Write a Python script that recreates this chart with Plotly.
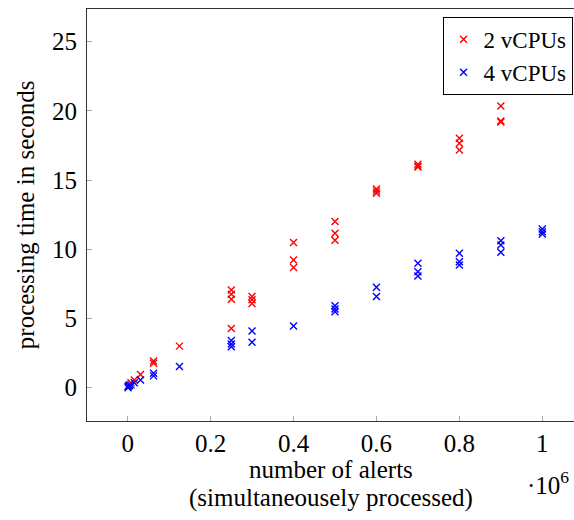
import plotly.graph_objects as go

# number of alerts (in units of 10^6) and processing time (s)
red_x = [0.001, 0.004, 0.008, 0.016, 0.031, 0.0625, 0.0625, 0.125,
         0.25, 0.25, 0.25, 0.25, 0.3, 0.3, 0.3, 0.4, 0.4, 0.4,
         0.5, 0.5, 0.5, 0.6, 0.6, 0.6, 0.7, 0.7, 0.7,
         0.8, 0.8, 0.8, 0.9, 0.9, 0.9]
red_y = [0.1, 0.2, 0.35, 0.55, 0.95, 1.93, 1.76, 3.0,
         7.06, 6.75, 6.39, 4.27, 6.58, 6.35, 6.08, 10.48, 9.23, 8.68,
         12.0, 11.16, 10.65, 14.36, 14.2, 14.05, 16.14, 16.0, 15.95,
         18.02, 17.66, 17.18, 20.35, 19.27, 19.2]

blue_x = [0.001, 0.002, 0.004, 0.008, 0.016, 0.031, 0.0625, 0.0625, 0.125,
          0.25, 0.25, 0.25, 0.3, 0.3, 0.4, 0.5, 0.5, 0.5, 0.6, 0.6,
          0.7, 0.7, 0.7, 0.8, 0.8, 0.8, 0.9, 0.9, 0.9, 1.0, 1.0, 1.0]
blue_y = [0.0, 0.1, 0.15, 0.2, 0.35, 0.56, 1.04, 0.85, 1.52,
          3.4, 3.16, 2.96, 4.1, 3.28, 4.46, 5.92, 5.69, 5.49, 7.25, 6.58,
          8.99, 8.38, 8.07, 9.71, 9.1, 8.87, 10.62, 10.31, 9.78, 11.47, 11.27, 11.1]

series_names = ["2 vCPUs", "4 vCPUs"]
x_ticks = [0, 0.2, 0.4, 0.6, 0.8, 1]
x_ticktext = ["0", "0.2", "0.4", "0.6", "0.8", "1"]
y_ticks = [0, 5, 10, 15, 20, 25]

FONT = "Liberation Serif, Times New Roman, serif"
FS = 25

fig = go.Figure()
for xs, ys, name, col in [(red_x, red_y, series_names[0], "#ff0000"),
                          (blue_x, blue_y, series_names[1], "#0000ff")]:
    fig.add_trace(go.Scatter(
        x=xs, y=ys, mode="markers", name=name,
        marker=dict(symbol="x-thin", size=7, color=col,
                    line=dict(color=col, width=1.4)),
    ))

fig.update_layout(
    width=574, height=520,
    margin=dict(l=87, r=0, t=9, b=99),
    paper_bgcolor="white", plot_bgcolor="white",
    font=dict(family=FONT, size=FS, color="black"),
    showlegend=True,
    legend=dict(x=0.997, y=0.981, xanchor="right", yanchor="top",
                bgcolor="white", bordercolor="black", borderwidth=1,
                font=dict(family=FONT, size=23),
                itemwidth=30, tracegroupgap=0),
    xaxis=dict(range=[-0.098, 1.0764], tickvals=x_ticks, ticktext=x_ticktext,
               showgrid=False, zeroline=False,
               showline=True, linecolor="#333", linewidth=1, mirror=True,
               ticks="inside", ticklen=5, tickcolor="#aaa", tickwidth=1,
               tickfont=dict(family=FONT, size=FS)),
    yaxis=dict(range=[-2.41, 27.36], tickvals=y_ticks,
               showgrid=False, zeroline=False,
               showline=True, linecolor="#333", linewidth=1,
               ticks="inside", ticklen=5, tickcolor="#aaa", tickwidth=1,
               tickfont=dict(family=FONT, size=FS), ticklabelstandoff=4),
)

fig.add_annotation(x=-0.127, y=0.5, xref="paper", yref="paper",
                   text="processing time in seconds", showarrow=False,
                   textangle=-90, xanchor="center", yanchor="middle",
                   font=dict(family=FONT, size=FS))
fig.add_annotation(x=0.5, y=-0.118, xref="paper", yref="paper",
                   text="number of alerts", showarrow=False,
                   xanchor="center", yanchor="middle",
                   font=dict(family=FONT, size=FS))
fig.add_annotation(x=0.5, y=-0.186, xref="paper", yref="paper",
                   text="(simultaneousely processed)", showarrow=False,
                   xanchor="center", yanchor="middle",
                   font=dict(family=FONT, size=FS))
fig.add_annotation(x=0.994, y=-0.15, xref="paper", yref="paper",
                   text="·10<sup>6</sup>", showarrow=False,
                   xanchor="right", yanchor="middle",
                   font=dict(family=FONT, size=FS))

fig.write_html("out.html")
